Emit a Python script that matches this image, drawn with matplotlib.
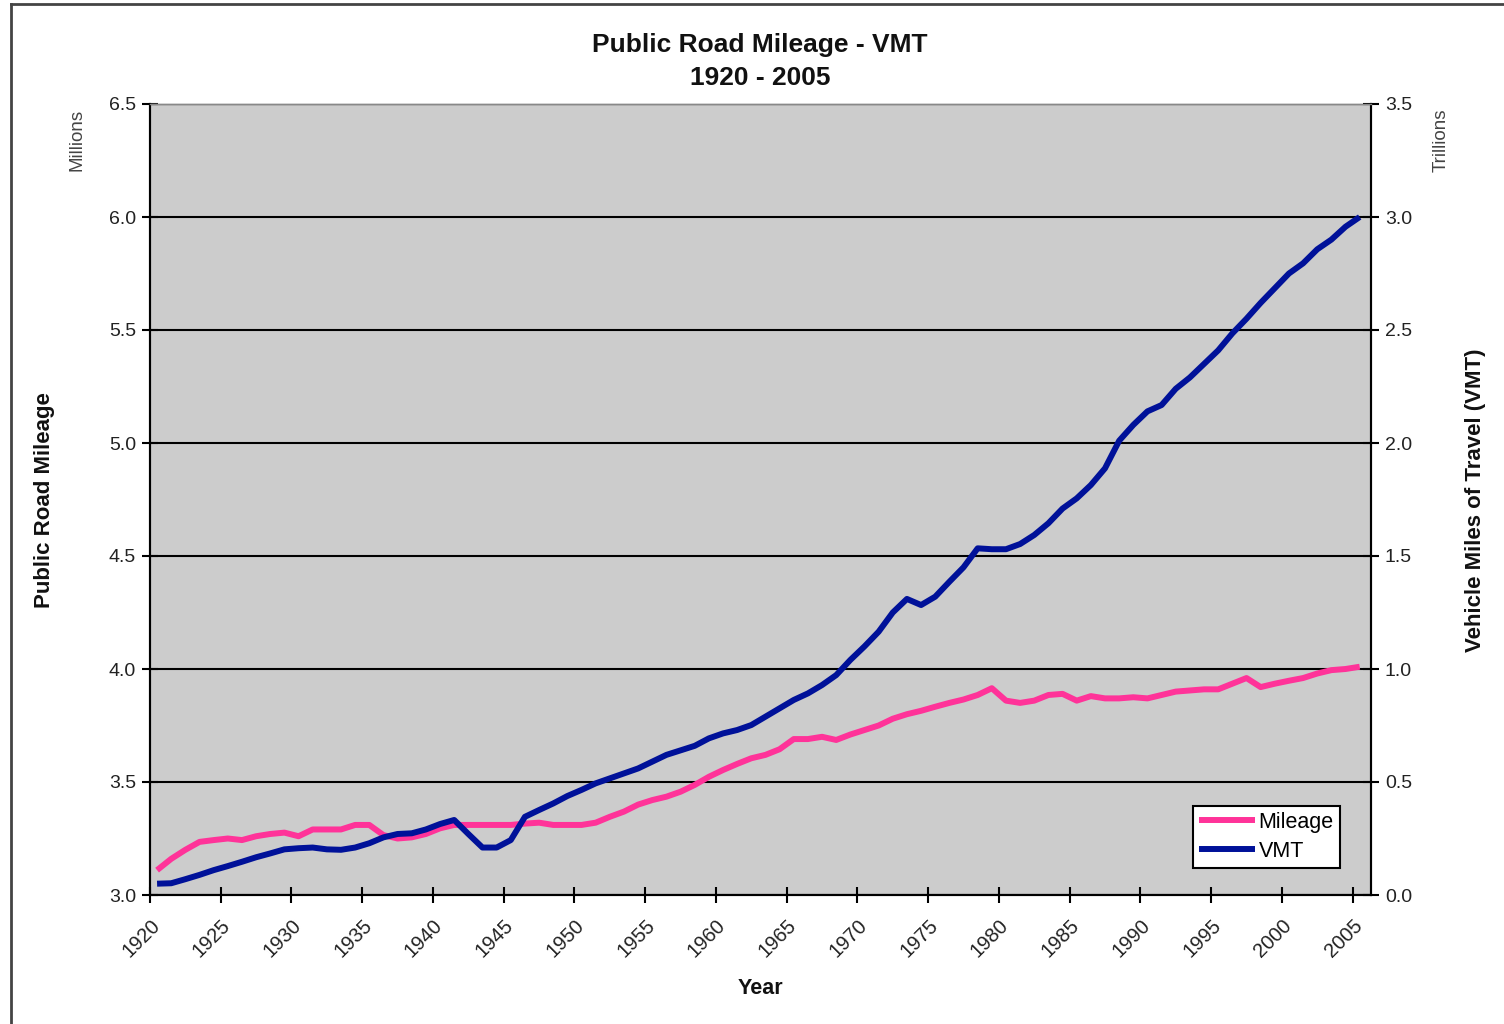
import matplotlib
matplotlib.use("Agg")
import matplotlib.pyplot as plt
from matplotlib.lines import Line2D
import numpy as np

plt.rcParams['font.family'] = ['Liberation Sans', 'DejaVu Sans']

years = list(range(1920, 2006))
mileage = [3.11, 3.16, 3.20, 3.235, 3.243, 3.25, 3.243, 3.26, 3.27, 3.276,
           3.26, 3.29, 3.29, 3.29, 3.31, 3.31, 3.265, 3.25, 3.255, 3.27,
           3.295, 3.31, 3.31, 3.31, 3.31, 3.31, 3.316, 3.32, 3.31, 3.31,
           3.31, 3.32, 3.346, 3.369, 3.40, 3.42, 3.435, 3.457, 3.487, 3.523,
           3.553, 3.58, 3.605, 3.62, 3.645, 3.69, 3.69, 3.70, 3.686, 3.71,
           3.73, 3.75, 3.78, 3.80, 3.815, 3.833, 3.85, 3.865, 3.885, 3.915,
           3.86, 3.85, 3.86, 3.885, 3.89, 3.86, 3.88, 3.87, 3.87, 3.875,
           3.87, 3.885, 3.90, 3.905, 3.91, 3.91, 3.935, 3.96, 3.92, 3.935,
           3.948, 3.96, 3.98, 3.995, 4.0, 4.01]
vmt = [0.05, 0.052, 0.07, 0.089, 0.11, 0.128, 0.147, 0.167, 0.184, 0.202,
       0.207, 0.21, 0.202, 0.20, 0.21, 0.229, 0.255, 0.27, 0.273, 0.29,
       0.314, 0.332, 0.27, 0.21, 0.21, 0.243, 0.346, 0.376, 0.405, 0.438,
       0.465, 0.494, 0.516, 0.538, 0.56, 0.59, 0.62, 0.64, 0.66, 0.693,
       0.715, 0.73, 0.752, 0.789, 0.826, 0.863, 0.892, 0.929, 0.973, 1.04,
       1.10, 1.165, 1.25, 1.31, 1.283, 1.32, 1.386, 1.45, 1.534, 1.53,
       1.53, 1.553, 1.593, 1.645, 1.71, 1.755, 1.814, 1.888, 2.01, 2.08,
       2.14, 2.168, 2.24, 2.29, 2.35, 2.41, 2.485, 2.55, 2.62, 2.685,
       2.75, 2.795, 2.857, 2.90, 2.957, 3.00]
tick_labels = [str(y) for y in range(1920, 2006, 5)]
left_ticks = [3.0, 3.5, 4.0, 4.5, 5.0, 5.5, 6.0, 6.5]
right_ticks = [0.0, 0.5, 1.0, 1.5, 2.0, 2.5, 3.0, 3.5]

W, H = 1504, 1024
fig = plt.figure(figsize=(W / 100, H / 100), dpi=100)
fig.patch.set_facecolor('white')

x0, x1, yb, yt = 150, 1371, 895, 104
ax = fig.add_axes([x0 / W, 1 - yb / H, (x1 - x0) / W, (yb - yt) / H])
ax.set_facecolor('#CCCCCC')
ax2 = ax.twinx()

l1, = ax.plot(years, mileage, color='#FF3399', lw=4.3, solid_capstyle='butt', label='Mileage')
l2, = ax2.plot(years, vmt, color='#001199', lw=4.3, solid_capstyle='butt', label='VMT')

ax.set_xlim(1919.5, 2005.8)
ax.set_ylim(3.0, 6.5)
ax2.set_ylim(0.0, 3.5)

xt = [int(t) - 0.5 for t in tick_labels]
ax.set_xticks(xt)
ax.set_xticklabels(tick_labels, rotation=45, ha='right', va='top', rotation_mode='anchor')
ax.set_yticks(left_ticks)
ax.set_yticklabels([f'{v:.1f}' for v in left_ticks])
ax2.set_yticks(right_ticks)
ax2.set_yticklabels([f'{v:.1f}' for v in right_ticks])

for a in (ax, ax2):
    a.tick_params(axis='both', direction='inout', length=12, width=1.5, colors='black',
                  labelsize=14, labelcolor='#222222')
ax.tick_params(axis='x', pad=9, labelsize=14.5)
ax.tick_params(axis='y', pad=4)
ax2.tick_params(axis='y', pad=4)

ax.grid(axis='y', color='black', lw=1.5)
ax.set_axisbelow(True)

for a in (ax, ax2):
    a.spines['top'].set_color('#888888')
    a.spines['top'].set_linewidth(1.0)
    for s in ('left', 'right', 'bottom'):
        a.spines[s].set_color('black')
        a.spines[s].set_linewidth(1.5)

leg = ax2.legend(handles=[l1, l2], loc='lower right',
                 bbox_to_anchor=(1340 / W, 1 - 868 / H), bbox_transform=fig.transFigure,
                 borderaxespad=0, fancybox=False, framealpha=1, edgecolor='black',
                 fontsize=15.5, handlelength=2.6, handletextpad=0.15, borderpad=0.3,
                 labelspacing=0.35)
leg.get_frame().set_linewidth(1.5)

fig.text(760 / W, 1 - 45 / H, 'Public Road Mileage - VMT', ha='center', va='center',
         fontsize=19, fontweight='bold', color='#111111')
fig.text(760 / W, 1 - 78 / H, '1920 - 2005', ha='center', va='center',
         fontsize=19, fontweight='bold', color='#111111')
fig.text(760 / W, 1 - 988 / H, 'Year', ha='center', va='center',
         fontsize=15.5, fontweight='bold', color='#111111')
fig.text(45 / W, 1 - 500 / H, 'Public Road Mileage', ha='center', va='center',
         rotation=90, fontsize=16, fontweight='bold', color='#111111')
fig.text(1475 / W, 1 - 500 / H, 'Vehicle Miles of Travel (VMT)', ha='center', va='center',
         rotation=90, fontsize=16, fontweight='bold', color='#111111')
fig.text(77 / W, 1 - 140 / H, 'Millions', ha='center', va='center',
         rotation=90, fontsize=13.5, color='#444444')
fig.text(1441 / W, 1 - 140 / H, 'Trillions', ha='center', va='center',
         rotation=90, fontsize=13.5, color='#444444')

# outer frame (left and top edges visible)
fig.add_artist(Line2D([11 / W, 11 / W], [0, 1 - 4 / H], transform=fig.transFigure,
                      color='#444444', lw=2))
fig.add_artist(Line2D([11 / W, 1], [1 - 4 / H, 1 - 4 / H], transform=fig.transFigure,
                      color='#444444', lw=2))

fig.savefig('out.png', dpi=100)
